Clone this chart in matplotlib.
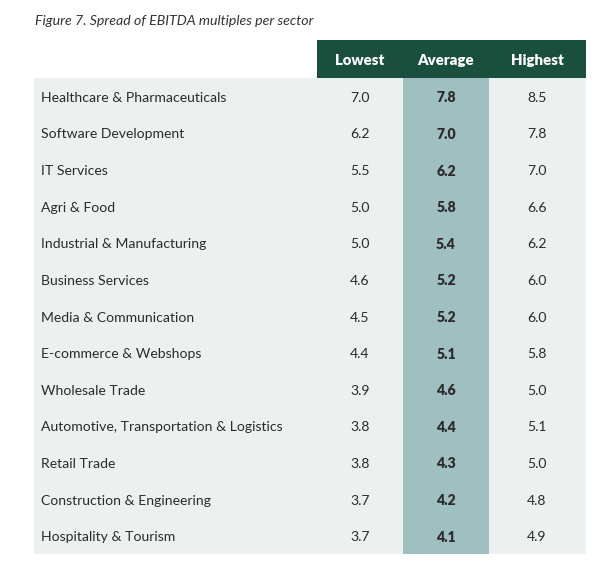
import matplotlib
matplotlib.use("Agg")
import matplotlib.pyplot as plt
from matplotlib.patches import Rectangle

sectors = [
    "Healthcare & Pharmaceuticals",
    "Software Development",
    "IT Services",
    "Agri & Food",
    "Industrial & Manufacturing",
    "Business Services",
    "Media & Communication",
    "E-commerce & Webshops",
    "Wholesale Trade",
    "Automotive, Transportation & Logistics",
    "Retail Trade",
    "Construction & Engineering",
    "Hospitality & Tourism",
]
lowest = [7.0, 6.2, 5.5, 5.0, 5.0, 4.6, 4.5, 4.4, 3.9, 3.8, 3.8, 3.7, 3.7]
average = [7.8, 7.0, 6.2, 5.8, 5.4, 5.2, 5.2, 5.1, 4.6, 4.4, 4.3, 4.2, 4.1]
highest = [8.5, 7.8, 7.0, 6.6, 6.2, 6.0, 6.0, 5.8, 5.0, 5.1, 5.0, 4.8, 4.9]
headers = ["Lowest", "Average", "Highest"]
title = "Figure 7. Spread of EBITDA multiples per sector"

FONT = ["Lato", "DejaVu Sans"]
W, H = 612, 585
fig = plt.figure(figsize=(W / 100, H / 100), dpi=100)
ax = fig.add_axes([0, 0, 1, 1])
ax.set_xlim(0, W)
ax.set_ylim(H, 0)
ax.axis("off")

dark = "#1a4f3e"
light = "#ecf0ef"
avgc = "#a0bfc0"
txt = "#2b2b2b"

left, right = 34, 586
head_top, head_bot = 40, 78
n = len(sectors)
row_h = (554 - head_bot) / n
col_edges = [317, 403, 489, 586]
col_centers = [360, 446, 537]

# header
ax.add_patch(Rectangle((col_edges[0], head_top), right - col_edges[0], head_bot - head_top,
                       facecolor=dark, edgecolor="none"))
for c, h in zip(col_centers, headers):
    ax.text(c, (head_top + head_bot) / 2 + 1.5, h, ha="center", va="center", color="white",
            fontsize=10.8, fontweight="heavy", family=FONT)

# body background
ax.add_patch(Rectangle((left, head_bot), right - left, row_h * n, facecolor=light, edgecolor="none"))
ax.add_patch(Rectangle((col_edges[1], head_bot), col_edges[2] - col_edges[1], row_h * n,
                       facecolor=avgc, edgecolor="none"))

fs = 10.1
for i, (s, lo, av, hi) in enumerate(zip(sectors, lowest, average, highest)):
    y = head_bot + row_h * (i + 0.5) + 1.5
    ax.text(41, y, s, ha="left", va="center", color=txt, fontsize=fs, family=FONT)
    ax.text(col_centers[0], y, f"{lo:.1f}", ha="center", va="center", color=txt, fontsize=fs, family=FONT)
    ax.text(col_centers[1], y, f"{av:.1f}", ha="center", va="center", color=txt, fontsize=fs,
            fontweight="heavy", family=FONT)
    ax.text(col_centers[2], y, f"{hi:.1f}", ha="center", va="center", color=txt, fontsize=fs, family=FONT)

ax.text(35, 21, title, ha="left", va="center", color="#333333", fontsize=10.2, style="italic", family=FONT)

fig.savefig("out.png", dpi=100)
